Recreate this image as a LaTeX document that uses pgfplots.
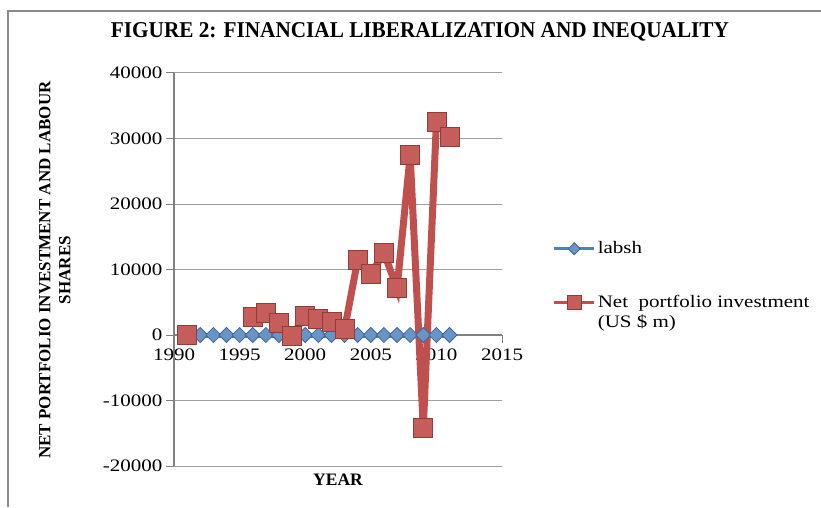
\documentclass[border=0pt]{standalone}
\usepackage{pgfplots}
\pgfplotsset{compat=1.18}
\usepackage{fontspec}
\setmainfont{Liberation Serif}
\newfontfamily\stretchfont[FakeStretch=1.2]{Liberation Serif}
\newfontfamily\titlefont[FakeStretch=0.94]{Liberation Serif}
\definecolor{exblue}{HTML}{4F81BD}
\definecolor{exred}{HTML}{C0504D}
\definecolor{framegray}{HTML}{8C8C8C}
\begin{document}
\begin{tikzpicture}[x=1pt,y=1pt]
\useasboundingbox (0,0) rectangle (821,507);
\draw[framegray, line width=2pt] (8,0) -- (8,496) -- (821,496);
\begin{axis}[
  at={(174pt,41pt)}, anchor=south west,
  scale only axis, width=328pt, height=393pt,
  xmin=1990, xmax=2015, ymin=-20000, ymax=40000,
  xtick={1990,1995,...,2015}, ytick={-20000,-10000,...,40000},
  axis x line*=middle, axis y line*=left,
  hide obscured x ticks=false, hide obscured y ticks=false,
  ymajorgrids, grid style={gray!75, line width=1pt},
  axis line style={gray, line width=1.2pt},
  tick style={gray, line width=1pt},
  tick align=outside, major tick length=8pt,
  scaled ticks=false,
  /pgf/number format/assume math mode=true,
  xticklabel style={/pgf/number format/1000 sep={}, font=\stretchfont\fontsize{17.5}{20}\selectfont, yshift=-2pt},
  yticklabel style={/pgf/number format/1000 sep={}, font=\stretchfont\fontsize{17.5}{20}\selectfont},
  title={\titlefont\bfseries\fontsize{22.6}{26}\selectfont FIGURE 2: FINANCIAL LIBERALIZATION AND INEQUALITY},
  title style={at={(axis description cs:0.75,1.089)}, anchor=center},
  xlabel={YEAR},
  xlabel style={at={(axis description cs:0.5,-0.0356)}, anchor=center, font=\bfseries\fontsize{17.5}{20}\selectfont},
  ylabel={NET PORTFOLIO INVESTMENT AND LABOUR\\SHARES},
  ylabel style={at={(axis description cs:-0.363,0.4987)}, anchor=center, align=center, font=\bfseries\fontsize{17}{20}\selectfont},
  legend style={at={(axis description cs:1.145,0.585)}, anchor=north west, draw=none, fill=none,
    font=\stretchfont\fontsize{17.5}{20}\selectfont, row sep=33pt,
    nodes={text height=13pt, text depth=4pt, inner sep=2pt}},
  legend cell align=left,
  legend image code/.code={\draw[mark repeat=2,mark phase=2,#1] plot coordinates {(0pt,0pt) (20pt,0pt) (40pt,0pt)};},
  unbounded coords=jump,
]
\addplot[color=exblue, line width=5pt, mark=diamond*, mark size=7.5pt,
  mark options={xscale=1.33, fill=exblue!85!white, draw=exblue!80!black, line width=0.8pt},
  legend image post style={line width=3pt, mark size=6pt}]
coordinates {
(1991,0.35) (1992,0.35) (1993,0.35) (1994,0.35) (1995,0.35) (1996,0.35) (1997,0.35)
(1998,0.35) (1999,0.35) (2000,0.35) (2001,0.35) (2002,0.35) (2003,0.35) (2004,0.35)
(2005,0.35) (2006,0.35) (2007,0.35) (2008,0.35) (2009,0.35) (2010,0.35) (2011,0.35)
};
\addlegendentry{labsh}
\addplot[color=exred, line width=7pt, mark=square*, mark size=9.5pt,
  mark options={fill=exred!92!white, draw=exred!75!black, line width=0.8pt},
  legend image post style={line width=3pt, mark size=7pt}]
coordinates {
(1991,0) (1992,nan) (1996,2700) (1997,3300) (1998,1800) (1999,-100) (2000,2900)
(2001,2500) (2002,2000) (2003,870) (2004,11450) (2005,9270) (2006,12570)
(2007,7130) (2008,27480) (2009,-14250) (2010,32560) (2011,30270)
};
\addlegendentry{\begin{tabular}[t]{@{}l@{}}Net\ \ portfolio investment\\(US \$ m)\end{tabular}}
\end{axis}
\end{tikzpicture}
\end{document}
